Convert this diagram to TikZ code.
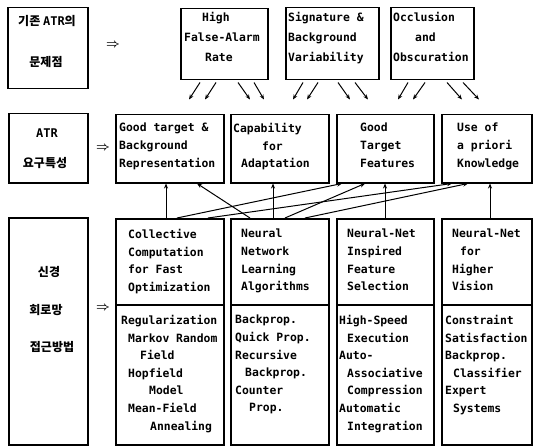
\documentclass[tikz,border=0pt]{standalone}
\usepackage{fontspec}
\setmonofont{DejaVu Sans Mono}
\newfontfamily\kr{Noto Sans CJK KR}
\usetikzlibrary{arrows.meta,calc}
\newcommand\indt[1]{\hspace*{#1pt}}
\begin{document}
\begin{tikzpicture}[x=1pt,y=-1pt,
  box/.style={draw,line width=1.5pt,anchor=north west,inner sep=0pt},
  en/.style={font=\ttfamily\bfseries\fontsize{11.4}{17.6}\selectfont,align=left,inner sep=0pt,anchor=north west,
             execute at begin node=\strut, execute at end node=\strut},
  entop/.style={en,font=\ttfamily\bfseries\fontsize{11.4}{20}\selectfont},
  ko/.style={font=\kr\bfseries\fontsize{12}{14}\selectfont,inner sep=0pt,anchor=center},
  imp/.style={font=\fontsize{13}{15}\selectfont\boldmath,inner sep=0pt,anchor=center},
  fan/.style={line width=1pt,-{Stealth[length=5pt,width=4pt]}},
  up/.style={line width=1pt,-{Stealth[length=5pt,width=4pt]}}]
\useasboundingbox (0,0) rectangle (534,446);

% ---- left column (Korean) ----
\node[box,minimum width=80pt,minimum height=81pt] (k1) at (7,7) {};
\node[ko] (k1a) at (47,21) {기존 {\ttfamily\bfseries ATR}의};
\node[ko] (k1b) at (46,62) {문제점};
\node[box,minimum width=79pt,minimum height=69pt] (k2) at (8,113) {};
\node[ko] (k2a) at (47,133) {{\ttfamily\bfseries ATR}};
\node[ko] (k2b) at (45,163) {요구특성};
\node[box,minimum width=79pt,minimum height=227pt] (k3) at (8,217) {};
\node[ko] (k3a) at (49,272) {신경};
\node[ko] (k3b) at (46,310) {회로망};
\node[ko] (k3c) at (52,347) {접근방법};

% ---- implication arrows ----
\node[imp] (i1) at (113,45) {$\Rightarrow$};
\node[imp] (i2) at (103,148) {$\Rightarrow$};
\node[imp] (i3) at (103,308) {$\Rightarrow$};

% ---- top row ----
\node[box,minimum width=87pt,minimum height=71pt] (hi) at (180,8) {};
\node[entop] (hit) at (184,12.5) {\indt{18}High\\False-Alarm\\\indt{21}Rate};
\node[box,minimum width=93pt,minimum height=72pt] (sg) at (285,7) {};
\node[entop] (sgt) at (288,12.5) {Signature \&\\Background\\Variability};
\node[box,minimum width=83pt,minimum height=72pt] (oc) at (390,7) {};
\node[entop] (oct) at (393,12.5) {Occlusion\\\indt{22}and\\Obscuration};

% fan arrows
\draw[fan] ([xshift=20pt,yshift=-2pt]hi.south west) -- ++(-11,17);
\draw[fan] ([xshift=36pt,yshift=-2pt]hi.south west) -- ++(-11,17);
\draw[fan] ([xshift=58pt,yshift=-2pt]hi.south west) -- ++(12,17);
\draw[fan] ([xshift=74pt,yshift=-2pt]hi.south west) -- ++(10,17);
\draw[fan] ([xshift=18pt,yshift=-2pt]sg.south west) -- ++(-10,17);
\draw[fan] ([xshift=33pt,yshift=-2pt]sg.south west) -- ++(-11,17);
\draw[fan] ([xshift=53pt,yshift=-2pt]sg.south west) -- ++(12,17);
\draw[fan] ([xshift=70pt,yshift=-2pt]sg.south west) -- ++(13,17);
\draw[fan] ([xshift=18pt,yshift=-2pt]oc.south west) -- ++(-10,17);
\draw[fan] ([xshift=35pt,yshift=-2pt]oc.south west) -- ++(-12,17);
\draw[fan] ([xshift=57pt,yshift=-2pt]oc.south west) -- ++(15,17);
\draw[fan] ([xshift=73pt,yshift=-2pt]oc.south west) -- ++(16,17);

% ---- second row ----
\node[box,minimum width=108pt,minimum height=68pt] (rA) at (115,114) {};
\node[en] (rAt) at (119,123) {Good target \&\\Background\\Representation};
\node[box,minimum width=98pt,minimum height=68pt] (rB) at (230,114) {};
\node[en] (rBt) at (233,123) {Capability\\\indt{29}for\\\indt{8}Adaptation};
\node[box,minimum width=97pt,minimum height=68pt] (rC) at (336,114) {};
\node[en] (rCt) at (360,123) {Good\\Target\\Features};
\node[box,minimum width=90pt,minimum height=68pt] (rD) at (441,114) {};
\node[en] (rDt) at (457,123) {Use of\\a priori\\Knowledge};

% ---- third row ----
\node[box,minimum width=108pt,minimum height=226pt] (b1) at (115,218) {};
\node[box,minimum width=98pt,minimum height=226pt] (b2) at (230,218) {};
\node[box,minimum width=97pt,minimum height=226pt] (b3) at (336,218) {};
\node[box,minimum width=90pt,minimum height=226pt] (b4) at (441,218) {};
\foreach \b in {b1,b2,b3,b4}
  \draw[line width=1.5pt] ([yshift=-87pt]\b.north west) -- ([yshift=-87pt]\b.north east);

\node[en] (b1u) at (128,229) {Collective\\Computation\\for Fast\\Optimization};
\node[en] (b2u) at (241,229) {Neural\\Network\\Learning\\Algorithms};
\node[en] (b3u) at (347,229) {Neural-Net\\Inspired\\Feature\\Selection};
\node[en] (b4u) at (452,229) {Neural-Net\\\indt{8}for\\Higher\\Vision};

\node[en] (b1l) at (121,315) {Regularization\\\indt{7}Markov Random\\\indt{19}Field\\\indt{7}Hopfield\\\indt{28}Model\\\indt{7}Mean-Field\\\indt{29}Annealing};
\node[en] (b2l) at (235,315) {Backprop.\\Quick Prop.\\Recursive\\\indt{10}Backprop.\\Counter\\\indt{14}Prop.};
\node[en] (b3l) at (339,315) {High-Speed\\\indt{8}Execution\\Auto-\\\indt{8}Associative\\\indt{8}Compression\\Automatic\\\indt{8}Integration};
\node[en] (b4l) at (445,315) {Constraint\\Satisfaction\\Backprop.\\\indt{8}Classifier\\Expert\\\indt{8}Systems};

% ---- connectors row 3 -> row 2 ----
\draw[up] ([xshift=51pt]b1.north west) -- ([xshift=51pt]rA.south west);
\draw[up] ([xshift=20pt]b2.north west) -- ([xshift=82pt]rA.south west);
\draw[up] ([xshift=43pt]b2.north west) -- ([xshift=43pt]rB.south west);
\draw[up] ([xshift=62pt]b1.north west) -- ([xshift=6pt]rC.south west);
\draw[up] ([xshift=93pt]b1.north west) -- ([xshift=11pt]rD.south west);
\draw[up] ([xshift=55pt]b2.north west) -- ([xshift=29pt]rC.south west);
\draw[up] ([xshift=75pt]b2.north west) -- ([xshift=27pt]rD.south west);
\draw[up] ([xshift=49pt]b3.north west) -- ([xshift=49pt]rC.south west);
\draw[up] ([xshift=49pt]b4.north west) -- ([xshift=49pt]rD.south west);
\end{tikzpicture}
\end{document}
